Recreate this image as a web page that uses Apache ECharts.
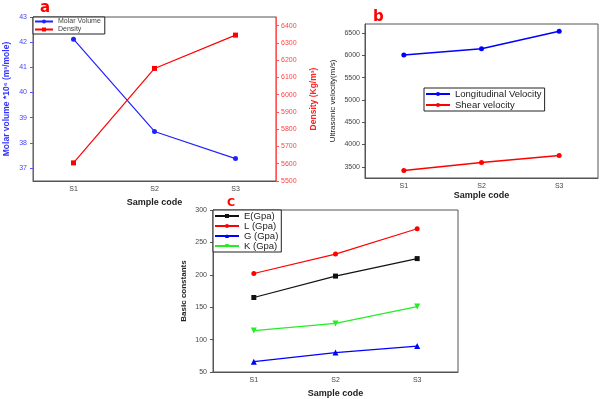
<!DOCTYPE html>
<html lang="en">
<head>
    <meta charset="UTF-8">
    <title>Sample properties</title>
    <script src="https://cdn.jsdelivr.net/npm/echarts@6.0.0/dist/echarts.min.js"></script>
    <style>
        html, body {
            margin: 0;
            border: 0;
            background: #fff;
        }

        #chart {
            width: 600px;
            height: 399px;
        }
    </style>
</head>
<body>
<div id="chart"></div>
<script type="text/javascript">
    const samples = ['S1', 'S2', 'S3'];

    // panel a
    const molarVolume = [42.12, 38.45, 37.37];
    const density = [5605, 6152, 6345];
    const molarTicks = [37, 38, 39, 40, 41, 42, 43];
    const densityTicks = [5500, 5600, 5700, 5800, 5900, 6000, 6100, 6200, 6300, 6400];

    // panel b
    const longitudinal = [6005, 6147, 6536];
    const shear = [3419, 3599, 3756];
    const velocityTicks = [3500, 4000, 4500, 5000, 5500, 6000, 6500];

    // panel c
    const eMod = [165, 198, 225];
    const lMod = [202, 232, 271];
    const gMod = [66, 80, 90];
    const kMod = [114, 125, 151];

    const grey = '#555';
    const font = 'Liberation Sans, Arial, sans-serif';
    const plain = v => String(v);

    function catAxis(grid) {
        return {
            type: 'category', gridIndex: grid, data: samples,
            name: 'Sample code', nameLocation: 'middle', nameGap: grid === 1 ? 9 : 17,
            nameTextStyle: {fontWeight: 'bold', fontSize: 9, color: '#222', fontFamily: font},
            axisLine: {lineStyle: {color: grey}},
            axisTick: {alignWithLabel: true, length: 3, lineStyle: {color: grey}},
            axisLabel: {fontSize: 7, color: '#444', margin: 5, fontFamily: font}
        };
    }

    window.onload = () => {
        const chart = echarts.init(document.querySelector('#chart'));
        const option = {
            animation: false,
            title: [
                {text: 'a', left: 35, top: -4, textStyle: {color: '#f00', fontSize: 15, fontWeight: 'bold', fontFamily: 'DejaVu Sans'}},
                {text: 'b', left: 368, top: 5, textStyle: {color: '#f00', fontSize: 15, fontWeight: 'bold', fontFamily: 'DejaVu Sans'}},
                {text: 'C', left: 222, top: 193, textStyle: {color: '#f00', fontSize: 11, fontWeight: 'bold', fontFamily: 'DejaVu Sans'}}
            ],
            grid: [
                {left: 33, top: 17, width: 243, height: 164, show: true, borderColor: grey, borderWidth: 1},
                {left: 365, top: 24, width: 233, height: 154, show: true, borderColor: grey, borderWidth: 1},
                {left: 213, top: 210, width: 245, height: 163, show: true, borderColor: grey, borderWidth: 1}
            ],
            legend: [
                {
                    data: ['Molar Volume', 'Density'], orient: 'vertical', left: 33, top: 17,
                    padding: [1, 4, 1, 1], itemGap: 1, itemWidth: 18, itemHeight: 5,
                    borderColor: '#222', borderWidth: 1, backgroundColor: '#fff',
                    textStyle: {fontSize: 7, color: '#444', fontFamily: font}
                },
                {
                    data: ['Longitudinal Velocity', 'Shear velocity'], orient: 'vertical', left: 424, top: 88,
                    padding: [1, 3, 1, 1], itemGap: 1, itemWidth: 24, itemHeight: 5,
                    borderColor: '#222', borderWidth: 1, backgroundColor: '#fff',
                    textStyle: {fontSize: 9.5, color: '#222', fontFamily: font}
                },
                {
                    data: ['E(Gpa)', 'L (Gpa)', 'G (Gpa)', 'K (Gpa)'], orient: 'vertical', left: 213, top: 210,
                    padding: [1, 3, 1, 1], itemGap: 0, itemWidth: 24, itemHeight: 5,
                    borderColor: '#222', borderWidth: 1, backgroundColor: '#fff',
                    textStyle: {fontSize: 9.5, color: '#222', fontFamily: font}
                }
            ],
            xAxis: [catAxis(0), catAxis(1), catAxis(2)],
            yAxis: [
                {
                    type: 'value', gridIndex: 0, position: 'left', min: 36.48, max: 43,
                    name: 'Molar volume *10\u2076 (m\u00b3/mole)', nameLocation: 'middle', nameGap: 22,
                    nameTextStyle: {color: '#33f', fontWeight: 'bold', fontSize: 8.5, fontFamily: font},
                    axisLine: {show: true, lineStyle: {color: '#55f'}},
                    axisTick: {show: true, length: 3, customValues: molarTicks, lineStyle: {color: '#55f'}},
                    axisLabel: {customValues: molarTicks, formatter: plain, fontSize: 7, color: '#44f', margin: 6, fontFamily: font},
                    splitLine: {show: false}
                },
                {
                    type: 'value', gridIndex: 0, position: 'right', min: 5500, max: 6450,
                    name: 'Density (Kg/m\u00b3)', nameLocation: 'middle', nameGap: 33, nameRotate: 90,
                    nameTextStyle: {color: '#f22', fontWeight: 'bold', fontSize: 8.5, fontFamily: font},
                    axisLine: {show: true, lineStyle: {color: '#f55'}},
                    axisTick: {show: true, length: 3, customValues: densityTicks, lineStyle: {color: '#f55'}},
                    axisLabel: {customValues: densityTicks, formatter: plain, fontSize: 7, color: '#f44', margin: 5, fontFamily: font},
                    splitLine: {show: false}
                },
                {
                    type: 'value', gridIndex: 1, min: 3250, max: 6700,
                    name: 'Ultrasonic velocity(m/s)', nameLocation: 'middle', nameGap: 28,
                    nameTextStyle: {color: '#222', fontSize: 8, fontFamily: font},
                    axisLine: {show: true, lineStyle: {color: grey}},
                    axisTick: {show: true, length: 3, customValues: velocityTicks, lineStyle: {color: grey}},
                    axisLabel: {customValues: velocityTicks, formatter: plain, fontSize: 7, color: '#444', margin: 5, fontFamily: font},
                    splitLine: {show: false}
                },
                {
                    type: 'value', gridIndex: 2, min: 50, max: 300, interval: 50,
                    name: 'Basic constants', nameLocation: 'middle', nameGap: 25,
                    nameTextStyle: {color: '#222', fontWeight: 'bold', fontSize: 8, fontFamily: font},
                    axisLine: {show: true, lineStyle: {color: grey}},
                    axisTick: {show: true, length: 3, lineStyle: {color: grey}},
                    axisLabel: {formatter: plain, fontSize: 7, color: '#444', margin: 6, fontFamily: font},
                    splitLine: {show: false}
                }
            ],
            series: [
                {
                    name: 'Molar Volume', type: 'line', xAxisIndex: 0, yAxisIndex: 0, data: molarVolume,
                    symbol: 'circle', symbolSize: 5, color: '#22f', lineStyle: {width: 1.2}
                },
                {
                    name: 'Density', type: 'line', xAxisIndex: 0, yAxisIndex: 1, data: density,
                    symbol: 'rect', symbolSize: 5, color: '#f00', lineStyle: {width: 1.2}
                },
                {
                    name: 'Longitudinal Velocity', type: 'line', xAxisIndex: 1, yAxisIndex: 2, data: longitudinal,
                    symbol: 'circle', symbolSize: 5, color: '#00f', lineStyle: {width: 1.5}
                },
                {
                    name: 'Shear velocity', type: 'line', xAxisIndex: 1, yAxisIndex: 2, data: shear,
                    symbol: 'circle', symbolSize: 5, color: '#f00', lineStyle: {width: 1.5}
                },
                {
                    name: 'E(Gpa)', type: 'line', xAxisIndex: 2, yAxisIndex: 3, data: eMod,
                    symbol: 'rect', symbolSize: 5, color: '#111', lineStyle: {width: 1.2}
                },
                {
                    name: 'L (Gpa)', type: 'line', xAxisIndex: 2, yAxisIndex: 3, data: lMod,
                    symbol: 'circle', symbolSize: 5, color: '#f00', lineStyle: {width: 1.2}
                },
                {
                    name: 'G (Gpa)', type: 'line', xAxisIndex: 2, yAxisIndex: 3, data: gMod,
                    symbol: 'triangle', symbolSize: 6, color: '#00f', lineStyle: {width: 1.2}
                },
                {
                    name: 'K (Gpa)', type: 'line', xAxisIndex: 2, yAxisIndex: 3, data: kMod,
                    symbol: 'triangle', symbolRotate: 180, symbolSize: 6, color: '#2e2', lineStyle: {width: 1.2}
                }
            ]
        };
        chart.setOption(option, true);
    };
</script>
</body>
</html>
